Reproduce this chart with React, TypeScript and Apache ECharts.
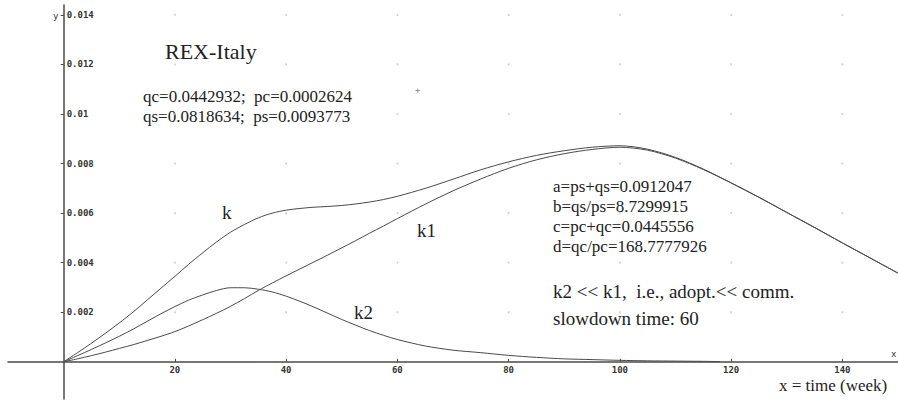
import React, { useEffect, useRef } from "react";
import * as echarts from "echarts";

// ---- data ----
const xs = [0, 2.5, 5, 7.5, 10, 12.5, 15, 17.5, 20, 22.5, 25, 27.5, 30, 32.5, 35, 37.5, 40, 42.5, 45, 47.5, 50, 52.5, 55, 57.5, 60, 65, 70, 75, 80, 85, 90, 95, 100, 105, 110, 115, 120, 125, 130, 135, 140, 145, 150];
const kValues = [0, 0.00037, 0.00075, 0.00115, 0.00157, 0.00201, 0.00249, 0.00297, 0.00345, 0.00394, 0.0044, 0.00484, 0.00523, 0.00554, 0.00581, 0.006, 0.00612, 0.00619, 0.00624, 0.00627, 0.00631, 0.00637, 0.00645, 0.00655, 0.00668, 0.007, 0.00737, 0.00775, 0.00807, 0.00833, 0.00852, 0.00866, 0.00872, 0.00858, 0.00825, 0.00778, 0.00722, 0.00664, 0.00603, 0.00542, 0.0048, 0.00419, 0.00358];
const k1Values = [0, 0.00012, 0.00025, 0.00039, 0.00054, 0.00069, 0.00086, 0.00103, 0.00122, 0.00145, 0.0017, 0.00196, 0.00224, 0.00255, 0.00288, 0.00318, 0.00347, 0.00375, 0.00403, 0.00431, 0.0046, 0.00489, 0.00519, 0.00548, 0.00578, 0.00636, 0.0069, 0.00738, 0.00781, 0.00815, 0.0084, 0.00857, 0.00866, 0.00854, 0.00822, 0.00776, 0.00722, 0.00664, 0.00603, 0.00542, 0.0048, 0.00419, 0.00358];
const k2X = [0, 2.5, 5, 7.5, 10, 12.5, 15, 17.5, 20, 22.5, 25, 27.5, 30, 32.5, 35, 37.5, 40, 42.5, 45, 47.5, 50, 52.5, 55, 57.5, 60, 65, 70, 75, 80, 85, 90, 95, 100, 105, 110, 115, 118];
const k2Values = [0, 0.00025, 0.0005, 0.00076, 0.00103, 0.00132, 0.00163, 0.00194, 0.00223, 0.00249, 0.0027, 0.00288, 0.00299, 0.00299, 0.00293, 0.00282, 0.00265, 0.00244, 0.00221, 0.00196, 0.00171, 0.00148, 0.00126, 0.00107, 0.0009, 0.00064, 0.00047, 0.00037, 0.00026, 0.00018, 0.00012, 0.00009, 0.00006, 0.00004, 0.00003, 0.00002, 0.00001];

const xTicks = [20, 40, 60, 80, 100, 120, 140];
const yTicks = [0.002, 0.004, 0.006, 0.008, 0.01, 0.012, 0.014];

const title = "REX-Italy";
const paramLines = ["qc=0.0442932;  pc=0.0002624", "qs=0.0818634;  ps=0.0093773"];
const derivedLines = ["a=ps+qs=0.0912047", "b=qs/ps=8.7299915", "c=pc+qc=0.0445556", "d=qc/pc=168.7777926"];
const noteLines = ["k2 << k1,  i.e., adopt.<< comm.", "slowdown time: 60"];
const xTitle = "x = time (week)";

const serif = "Liberation Serif, serif";
const mono = "DejaVu Sans Mono, monospace";
const ink = "#222";

const X_MIN = -10, X_MAX = 150, Y_MIN = -0.0015, Y_MAX = 0.0144;
const GRID = { left: 8, top: 5, width: 891, height: 394 };

export default function App() {
  const ref = useRef<HTMLDivElement>(null);
  useEffect(() => {
    if (!ref.current) return;
    const chart = echarts.init(ref.current, undefined, { renderer: "svg" });
    const pairs = (x: number[], y: number[]) => x.map((v, i) => [v, y[i]]);
    const dots: number[][] = [];
    xTicks.forEach((x) => yTicks.forEach((y) => dots.push([x, y])));
    const lineStyle = { color: "#4a4a4a", width: 1 };
    // axes are drawn through the origin: shift them by the pixel distance of zero from the grid edge
    const yAxisShift = ((0 - X_MIN) / (X_MAX - X_MIN)) * GRID.width;
    const xAxisShift = ((0 - Y_MIN) / (Y_MAX - Y_MIN)) * GRID.height;
    const text = (x: number, y: number, t: string, size: number, font = serif, color = ink) => ({
      type: "text",
      x,
      y,
      silent: true,
      style: { text: t, fontSize: size, fontFamily: font, fill: color, verticalAlign: "middle", align: "left" },
    });
    const option: any = {
      animation: false,
      backgroundColor: "#fff",
      grid: { ...GRID, containLabel: false },
      xAxis: {
        type: "value",
        min: X_MIN,
        max: X_MAX,
        position: "bottom",
        offset: -xAxisShift,
        axisLine: { onZero: false, lineStyle: { color: "#4a4a4a", width: 1.5 } },
        axisTick: { show: true, inside: true, length: 3, customValues: xTicks, lineStyle: { color: "#4a4a4a" } },
        axisLabel: {
          customValues: xTicks,
          margin: 4,
          fontSize: 9,
          fontWeight: "bold",
          fontFamily: mono,
          color: "#333",
        },
        splitLine: { show: false },
      },
      yAxis: {
        type: "value",
        min: Y_MIN,
        max: Y_MAX,
        position: "left",
        offset: -yAxisShift,
        axisLine: { onZero: false, lineStyle: { color: "#4a4a4a", width: 1.5 } },
        axisTick: { show: true, inside: false, length: 3, customValues: yTicks, lineStyle: { color: "#4a4a4a" } },
        axisLabel: {
          customValues: yTicks,
          inside: true,
          margin: 3,
          fontSize: 9,
          fontWeight: "bold",
          fontFamily: mono,
          color: "#333",
          formatter: (v: number) => String(v),
        },
        splitLine: { show: false },
      },
      series: [
        {
          type: "scatter",
          data: dots,
          symbolSize: 2,
          itemStyle: { color: "#c4c4c4" },
          silent: true,
        },
        { name: "k", type: "line", data: pairs(xs, kValues), showSymbol: false, smooth: 0.3, lineStyle },
        { name: "k1", type: "line", data: pairs(xs, k1Values), showSymbol: false, smooth: 0.3, lineStyle },
        { name: "k2", type: "line", data: pairs(k2X, k2Values), showSymbol: false, smooth: 0.3, lineStyle },
      ],
      graphic: [
        text(165, 51, title, 22),
        text(143, 96, paramLines[0], 17),
        text(143, 116, paramLines[1], 17),
        text(553, 186, derivedLines[0], 17),
        text(553, 206, derivedLines[1], 17),
        text(553, 226, derivedLines[2], 17),
        text(553, 246, derivedLines[3], 17),
        text(553, 291, noteLines[0], 19),
        text(553, 318, noteLines[1], 19),
        text(222, 212, "k", 19),
        text(417, 230, "k1", 19),
        text(354, 312, "k2", 19),
        text(779, 385, xTitle, 17),
        text(53, 16, "y", 9, mono, "#333"),
        text(891, 354, "x", 9, mono, "#333"),
        text(415, 90, "+", 9, mono, "#888"),
      ],
    };
    chart.setOption(option);
    return () => chart.dispose();
  }, []);
  return <div ref={ref} style={{ position: "fixed", left: 0, top: 0, width: 898, height: 401 }} />;
}
